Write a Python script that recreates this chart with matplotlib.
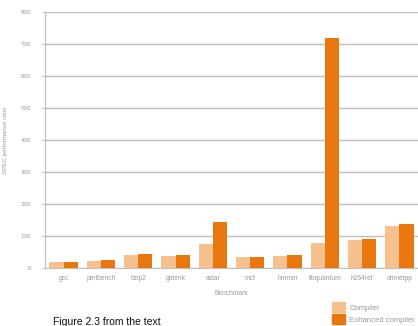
import matplotlib
matplotlib.use("Agg")
import matplotlib.pyplot as plt
import numpy as np
from matplotlib.patches import Patch

plt.rcParams['font.family'] = ['Liberation Sans', 'DejaVu Sans']

benchmarks = ["gcc", "perlbench", "bzip2", "gobmk", "astar", "mcf",
              "hmmer", "libquantum", "h264ref", "omnetpp"]
compiler = [18, 23, 42, 39, 76, 34, 39, 78, 87, 130]
enhanced = [18, 24, 43, 40, 143, 35, 40, 719, 91, 136]
yticks = [0, 100, 200, 300, 400, 500, 600, 700, 800]

light = "#F6C18E"
dark = "#E8770F"
grey_text = "#9A9A9A"

fig = plt.figure(figsize=(4.18, 3.26), dpi=100)
ax = fig.add_axes([45/418, 58/326, 373/418, 256/326])

x = np.arange(len(benchmarks))
w = 0.38
ax.bar(x - w/2, compiler, w, color=light, zorder=3)
ax.bar(x + w/2, enhanced, w, color=dark, zorder=3)

ax.set_xlim(-0.5, len(benchmarks) - 0.5)
ax.set_ylim(0, 800)
ax.set_yticks(yticks)
ax.set_yticklabels([str(v) for v in yticks], fontsize=4.5, color=grey_text)
ax.yaxis.grid(True, color="#BEBEBE", linewidth=1.0, zorder=0)
ax.set_xticks(x)
ax.set_xticklabels(benchmarks, fontsize=4.8, color=grey_text)
ax.tick_params(axis='x', length=0, pad=5)
ax.tick_params(axis='y', length=2, color="#BEBEBE", pad=8)
for s in ["top", "right"]:
    ax.spines[s].set_visible(False)
ax.spines["left"].set_color("#BEBEBE")
ax.spines["bottom"].set_color("#BEBEBE")
ax.set_xlabel("Benchmark", fontsize=4.8, color=grey_text, labelpad=6)
ax.set_ylabel("SPEC performance ratio", fontsize=4.5, color=grey_text, labelpad=9)

handles = [Patch(color=light, label="Compiler"),
           Patch(color=dark, label="Enhanced compiler")]
fig.legend(handles=handles, loc="lower left", bbox_to_anchor=(331/418, 1/326),
           frameon=False, fontsize=5.5, labelcolor=grey_text,
           handlelength=1.7, handleheight=1.7, handletextpad=0.6,
           labelspacing=0.2, borderaxespad=0.0, borderpad=0.1)

fig.text(53/418, -1/326, "Figure 2.3 from the text", fontsize=7.5,
         color="#111111", ha="left", va="bottom")

fig.savefig("out.png", dpi=100)
